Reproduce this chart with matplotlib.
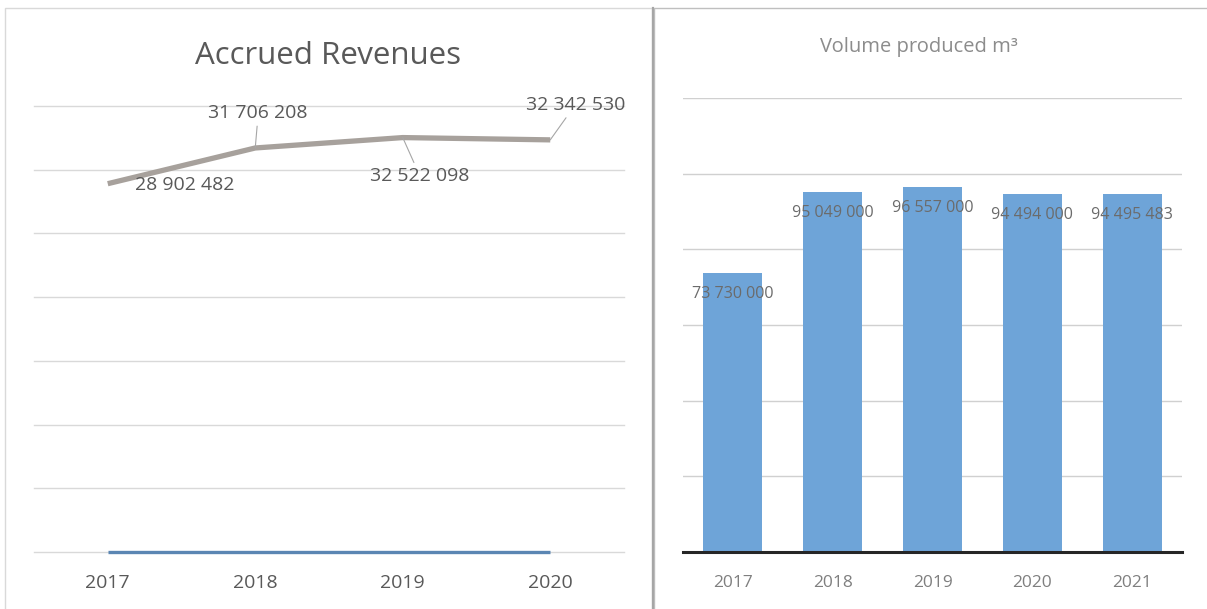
import matplotlib
matplotlib.use("Agg")
import matplotlib.pyplot as plt
from matplotlib import font_manager as fm
from matplotlib.patches import Rectangle
import numpy as np

# Accrued revenues (left panel)
rev_years = ["2017", "2018", "2019", "2020"]
rev_values = [28902482, 31706208, 32522098, 32342530]
rev_second = [0, 0, 0, 0]
rev_label_offsets = [(77, -1), (3, 35), (17, -38), (25, 35)]  # pixels, label vs point

# Volume produced (right panel)
vol_years = ["2017", "2018", "2019", "2020", "2021"]
vol_values = [73730000, 95049000, 96557000, 94494000, 94495483]


def pick_font(family="Open Sans"):
    """Regular-width upright file of a family, avoiding condensed cuts."""
    cands = [f for f in fm.fontManager.ttflist
             if f.name == family and f.style == "normal" and f.weight in (400, "normal")]
    plain = [f for f in cands if "ondensed" not in f.fname and f.stretch in ("normal", 500)]
    pool = plain or cands
    if not pool:
        return fm.FontProperties(family=["DejaVu Sans"])
    pool.sort(key=lambda f: ("Regular" not in f.fname, len(f.fname)))
    return fm.FontProperties(fname=pool[0].fname)


FONT = pick_font()


def fp(size):
    p = FONT.copy()
    p.set_size(size)
    return p


def fmt_space(v):
    return f"{v:,.0f}".replace(",", " ")


W, H = 1207, 609
fig = plt.figure(figsize=(W / 100, H / 100), dpi=100)
fig.patch.set_facecolor("white")

# panel frames
fig.add_artist(Rectangle((5 / W, -0.01), 647 / W, 1 - 8 / H + 0.01, transform=fig.transFigure,
                         fill=False, ec="#d9d9d9", lw=1.0))
fig.add_artist(Rectangle((654 / W, -0.01), 0.5, 1 - 8 / H + 0.01, transform=fig.transFigure,
                         fill=False, ec="#bfbfbf", lw=1.0))
fig.add_artist(plt.Line2D([653 / W, 653 / W], [0, 1 - 8 / H], transform=fig.transFigure,
                          color="#a6a6a6", lw=1.6))

text_col = "#595959"

# ---- left: line chart
ax1 = fig.add_axes([34 / W, 57 / H, 590 / W, 446 / H])
x1 = np.arange(len(rev_years))
ax1.set_xlim(-0.5, len(rev_years) - 0.5)
ax1.set_ylim(0, 35_000_000)
ax1.set_yticks(np.arange(0, 35_000_001, 5_000_000))
ax1.yaxis.grid(True, color="#d9d9d9", lw=1.0)
for gl in ax1.get_ygridlines():
    gl.set_clip_on(False)
ax1.set_axisbelow(True)
for s in ax1.spines.values():
    s.set_visible(False)
ax1.tick_params(left=False, bottom=False, labelleft=False)
ax1.set_xticks(x1)
ax1.set_xticklabels(rev_years, color=text_col, fontproperties=fp(14))
ax1.tick_params(axis="x", pad=12)

ax1.plot(x1, rev_second, color="#5b86b3", lw=2.4, solid_capstyle="butt", zorder=3,
         clip_on=False)
ax1.plot(x1, rev_values, color="#a7a19c", lw=3.8, solid_capstyle="butt",
         solid_joinstyle="round", zorder=4)

for i, (v, off) in enumerate(zip(rev_values, rev_label_offsets)):
    leader = None if i == 0 else dict(arrowstyle="-", color="#a6a6a6", lw=0.8,
                                      shrinkA=1, shrinkB=0)
    ax1.annotate(fmt_space(v), (x1[i], v), xytext=off, textcoords="offset pixels",
                 ha="center", va="center", fontproperties=fp(14), color=text_col,
                 arrowprops=leader, zorder=5)

fig.text(328 / W, 1 - 56 / H, "Accrued Revenues", ha="center", va="center",
         fontproperties=fp(22.5), color=text_col)

# ---- right: bar chart
ax2 = fig.add_axes([683 / W, 57 / H, 499 / W, 454 / H])
x2 = np.arange(len(vol_years))
ax2.set_xlim(-0.5, len(vol_years) - 0.5)
ax2.set_ylim(0, 120_000_000)
ax2.set_yticks(np.arange(0, 120_000_001, 20_000_000))
ax2.yaxis.grid(True, color="#d0d0d0", lw=1.0)
ax2.set_axisbelow(True)
for s in ("left", "right", "top"):
    ax2.spines[s].set_visible(False)
ax2.spines["bottom"].set_color("#262626")
ax2.spines["bottom"].set_linewidth(2.2)
ax2.spines["bottom"].set_zorder(5)
ax2.tick_params(left=False, bottom=False, labelleft=False)
ax2.set_xticks(x2)
ax2.set_xticklabels(vol_years, color="#7f7f7f", fontproperties=fp(12.5))
ax2.tick_params(axis="x", pad=13)

bars = ax2.bar(x2, vol_values, width=0.59, color="#6ea4d8", zorder=3)
for b, v in zip(bars, vol_values):
    ax2.annotate(fmt_space(v), (b.get_x() + b.get_width() / 2, v), xytext=(0, -21),
                 textcoords="offset pixels", ha="center", va="center",
                 fontproperties=fp(11.5), color="#6b6b6b", zorder=4)

fig.text(919 / W, 1 - 47 / H, "Volume produced m\u00b3", ha="center", va="center",
         fontproperties=fp(14.5), color="#8c8c8c")

fig.savefig("out.png", dpi=100, facecolor="white")
